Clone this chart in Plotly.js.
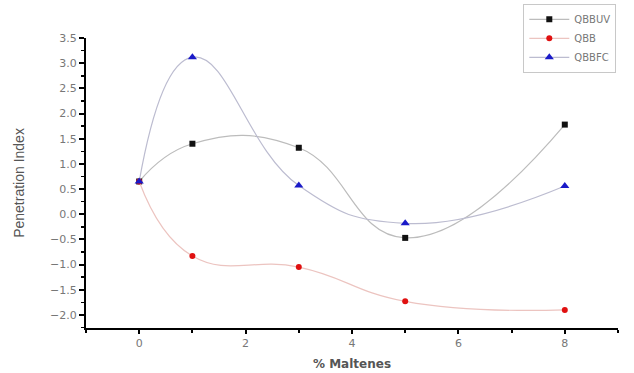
<!DOCTYPE html>
<html><head><meta charset="utf-8">
<script src="https://cdn.plot.ly/plotly-3.0.1.min.js"></script>
<style>html,body{margin:0;padding:0;background:#fff}#c{width:634px;height:373px}</style>
</head><body><div id="c"></div>
<script>
var maltenes = [0, 1, 3, 5, 8];
var qbbuv = [0.65, 1.40, 1.32, -0.47, 1.78];
var qbb = [0.65, -0.83, -1.05, -1.73, -1.90];
var qbbfc = [0.65, 3.12, 0.57, -0.18, 0.56];
var seriesNames = ['QBBUV', 'QBB', 'QBBFC'];

var tickFont = 'DejaVu Sans, sans-serif';
function tr(y, name, mcol, sym, msz, lcol) {
  return {x: maltenes, y: y, name: name, type: 'scatter', mode: 'lines+markers',
    line: {shape: 'spline', smoothing: 1.3, color: lcol, width: 1.2},
    marker: {symbol: sym, color: mcol, size: msz}};
}
var data = [
  tr(qbbuv, seriesNames[0], '#111111', 'square', 6, '#bcbcbc'),
  tr(qbb, seriesNames[1], '#e01010', 'circle', 6, '#ecc4c0'),
  tr(qbbfc, seriesNames[2], '#1a1ac8', 'triangle-up', 8, '#bcbcd0')
];
var layout = {
  width: 634, height: 373,
  margin: {l: 86, r: 16, t: 38, b: 45, autoexpand: false},
  paper_bgcolor: '#fff', plot_bgcolor: '#fff',
  showlegend: true,
  legend: {x: 0.822, y: 1.118, xanchor: 'left', yanchor: 'top', itemwidth: 40,
    bgcolor: '#fff', bordercolor: '#c8c8c8', borderwidth: 1,
    font: {family: tickFont, size: 10, color: '#777'}, tracegroupgap: 0},
  xaxis: {range: [-1, 9], tickvals: [0, 2, 4, 6, 8], ticks: 'outside', ticklen: 4, tickwidth: 2,
    tickcolor: '#000', showline: true, linecolor: '#000', linewidth: 2, showgrid: false, zeroline: false,
    minor: {dtick: 1, tick0: 0, ticks: 'outside', ticklen: 3, tickwidth: 2, tickcolor: '#000'},
    tickfont: {family: tickFont, size: 11, color: '#777'},
    title: {text: '% Maltenes', font: {family: tickFont, size: 12, color: '#555', weight: 'bold'}, standoff: 10}},
  yaxis: {range: [-2.26, 3.5], tick0: -2, dtick: 0.5, tickformat: '.1f', ticks: 'outside', ticklen: 5, tickwidth: 2,
    tickcolor: '#000', showline: true, linecolor: '#000', linewidth: 2, showgrid: false, zeroline: false,
    minor: {dtick: 0.25, tick0: 0, ticks: 'outside', ticklen: 3, tickwidth: 1.5, tickcolor: '#000'},
    tickfont: {family: tickFont, size: 11, color: '#777'},
    title: {text: 'Penetration Index', font: {family: 'Liberation Sans Narrow, Liberation Sans, sans-serif', size: 14, color: '#555'}, standoff: 22}}
};
Plotly.newPlot('c', data, layout, {displayModeBar: false, staticPlot: true});
</script></body></html>
